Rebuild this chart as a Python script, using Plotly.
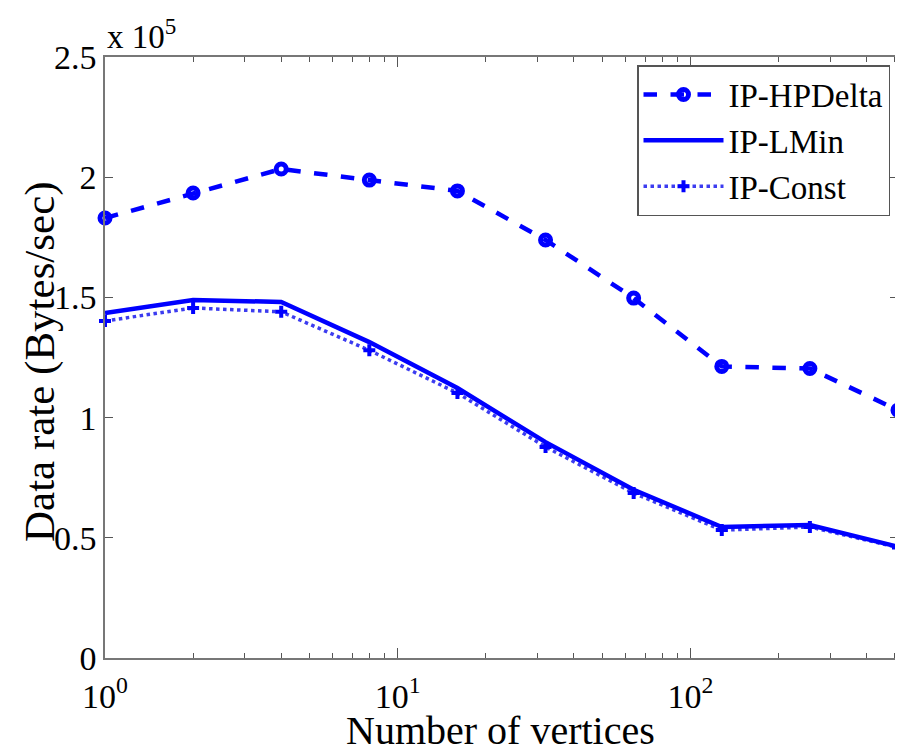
import plotly.graph_objects as go

vertices = [1, 2, 4, 8, 16, 32, 64, 128, 256, 512]
hp_delta = [183000, 193400, 203400, 198800, 194300, 173900, 149700, 121300, 120400, 103100]
l_min = [143500, 148900, 148100, 131400, 112300, 89800, 70000, 54500, 55300, 46300]
const = [140200, 145600, 144000, 128000, 110200, 87800, 68600, 53200, 54500, 46000]

y_ticks = [0, 50000, 100000, 150000, 200000, 250000]
y_ticktext = ["0", "0.5", "1", "1.5", "2", "2.5"]
x_ticks = [1, 10, 100]
x_ticktext = ["10<sup>0</sup>", "10<sup>1</sup>", "10<sup>2</sup>"]
x_minor = [2, 3, 4, 5, 6, 7, 8, 9, 20, 30, 40, 50, 60, 70, 80, 90, 200, 300, 400, 500]

FONT = "Liberation Serif"
BLUE = "#0000ff"
OFF = 8  # page body margin
W, H = 903 - OFF, 755 - OFF
L, R, T, B = 105 - OFF, 5, 57 - OFF, 97
PW, PH = W - L - R, H - T - B


def px(wx):
    return (wx - OFF - L) / PW


def py(wy):
    return (OFF + T + PH - wy) / PH


fig = go.Figure()
fig.add_trace(go.Scatter(
    x=vertices, y=hp_delta, name="IP-HPDelta", mode="lines+markers",
    line=dict(color=BLUE, width=4.5, dash="dash"),
    marker=dict(symbol="circle-open", size=10, color=BLUE, line=dict(width=5, color=BLUE)),
    cliponaxis=False, legendrank=1,
))
fig.add_trace(go.Scatter(
    x=vertices, y=const, name="IP-Const", mode="lines+markers",
    line=dict(color="#3c3cf0", width=3.5, dash="dot"),
    marker=dict(symbol="cross", size=10, color=BLUE),
    cliponaxis=False, legendrank=3,
))
fig.add_trace(go.Scatter(
    x=vertices, y=l_min, name="IP-LMin", mode="lines",
    line=dict(color=BLUE, width=4.5),
    cliponaxis=False, legendrank=2,
))

axis_common = dict(
    showline=True, linecolor="#777777", linewidth=1.5, mirror="ticks",
    ticks="inside", tickcolor="#555555", showgrid=False, zeroline=False,
    automargin=False,
    tickfont=dict(family=FONT, size=34, color="black"),
)

fig.update_layout(
    width=W, height=H,
    margin=dict(l=L, r=R, t=T, b=B),
    paper_bgcolor="white", plot_bgcolor="white",
    font=dict(family=FONT, color="black"),
    showlegend=True,
    legend=dict(
        x=px(890), y=py(65), xanchor="right", yanchor="top",
        bgcolor="white", bordercolor="#555555", borderwidth=1.5,
        font=dict(family=FONT, size=33, color="black"),
        traceorder="normal", itemwidth=80, tracegroupgap=0,
    ),
    xaxis=dict(
        type="log", range=[0, 2.7093], tickmode="array", tickvals=x_ticks,
        ticktext=x_ticktext, ticklen=10, ticklabelstandoff=7,
        minor=dict(tickmode="array", tickvals=x_minor, ticks="inside", ticklen=5,
                   tickcolor="#555555", showgrid=False),
        **axis_common,
    ),
    yaxis=dict(
        range=[0, 250000], tickmode="array", tickvals=y_ticks, ticktext=y_ticktext,
        ticklen=8,
        **axis_common,
    ),
    annotations=[
        dict(text="x 10<sup>5</sup>", xref="paper", yref="paper", x=0, y=1,
             xanchor="left", yanchor="bottom", showarrow=False,
             font=dict(family=FONT, size=33, color="black")),
        dict(text="Data rate (Bytes/sec)", xref="paper", yref="paper",
             x=px(40), y=py(362), xanchor="center", yanchor="middle",
             textangle=-90, showarrow=False,
             font=dict(family=FONT, size=43, color="black")),
        dict(text="Number of vertices", xref="paper", yref="paper",
             x=px(500), y=py(731), xanchor="center", yanchor="middle",
             showarrow=False,
             font=dict(family=FONT, size=40, color="black")),
    ],
)

fig.write_html("out.html")
